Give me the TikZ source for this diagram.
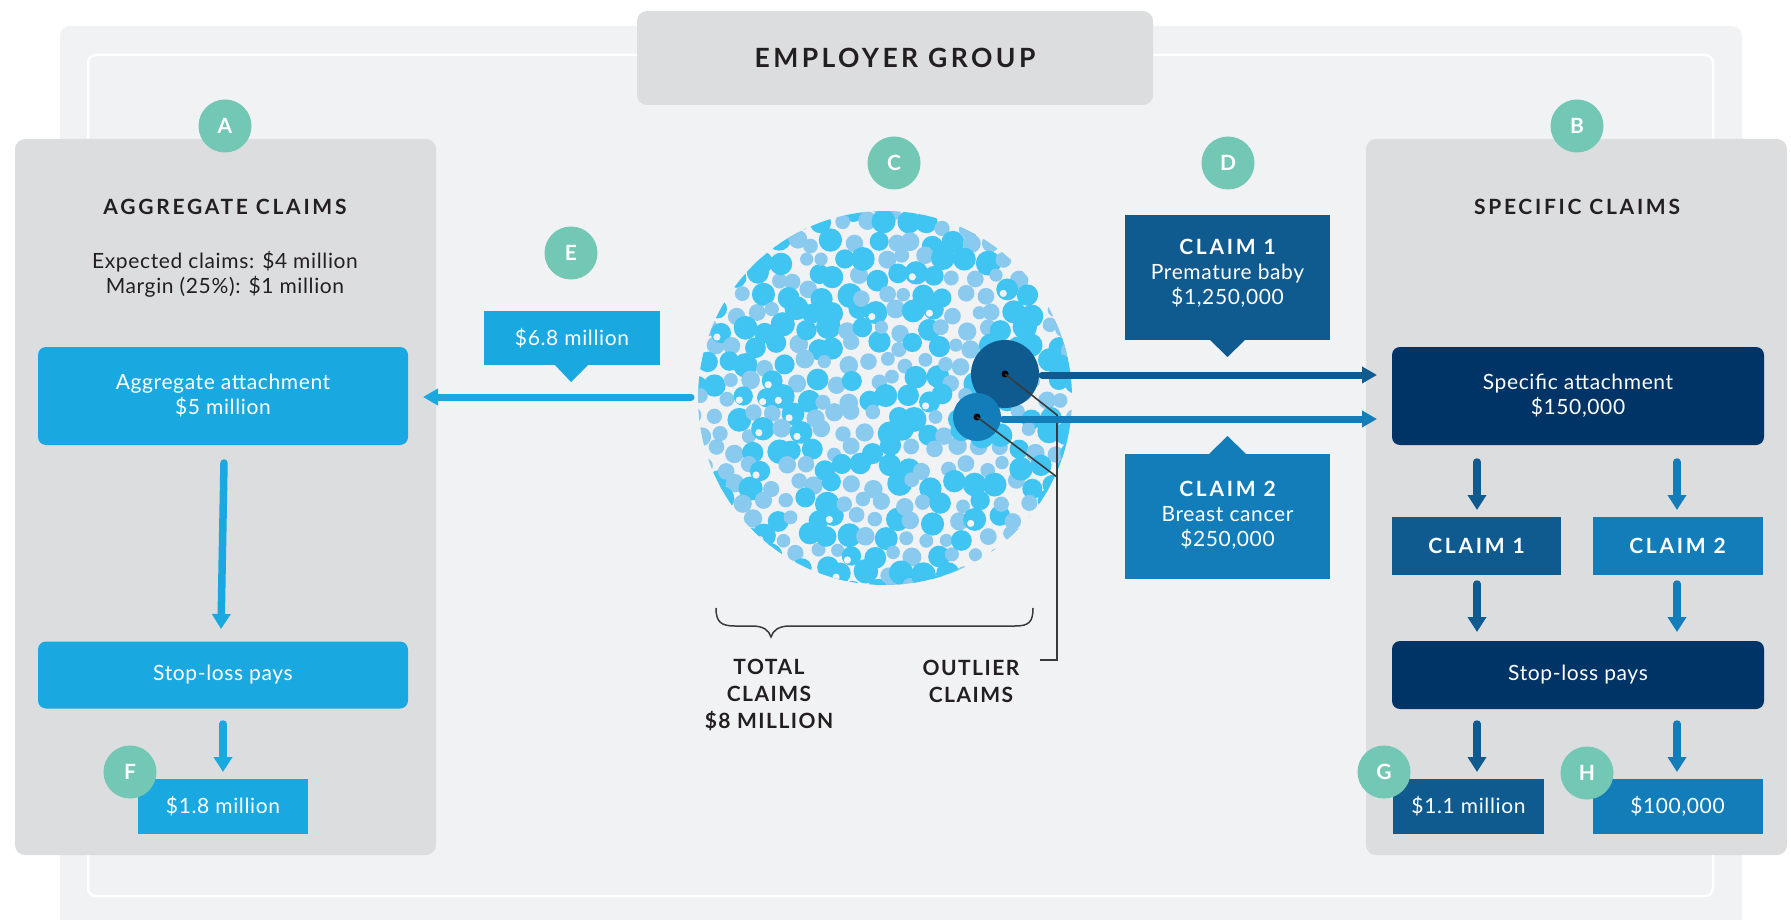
\documentclass[tikz,border=0pt]{standalone}
\usepackage{fontspec}
\setmainfont{Lato}[LetterSpace=3]
\newfontfamily\headfont[LetterSpace=13]{Lato}
\newfontfamily\labelfont[LetterSpace=7]{Lato}
\newfontfamily\badgefont{Lato}
\usetikzlibrary{arrows.meta}
\definecolor{bgout}{HTML}{F1F2F4}
\definecolor{panelgray}{HTML}{DCDDDF}
\definecolor{tealc}{HTML}{72C7B5}
\definecolor{aggblue}{HTML}{19A8E0}
\definecolor{navy}{HTML}{003466}
\definecolor{claimone}{HTML}{0F5A8F}
\definecolor{claimtwo}{HTML}{137DBA}
\definecolor{dotbright}{HTML}{40C4F2}
\definecolor{dotlight}{HTML}{8ACAEE}
\definecolor{ink}{HTML}{231F20}
\definecolor{leadgray}{HTML}{3A3A3C}
\newcommand\titlefnt{\headfont\bfseries\fontsize{26.5}{30}\selectfont}
\newcommand\headfnt{\headfont\bfseries\fontsize{21}{25}\selectfont}
\newcommand\bodyfnt{\fontsize{21}{25}\selectfont}
\newcommand\badgefnt{\badgefont\bfseries\fontsize{21}{24}\selectfont}
\newcommand\lblfnt{\labelfont\bfseries\fontsize{21}{27}\selectfont}
\begin{document}
\begin{tikzpicture}[x=1pt,y=-1pt,
  panelbox/.style={fill=panelgray, rounded corners=10pt, inner sep=0pt},
  badge/.style={circle, fill=tealc, text=white, minimum size=53pt, inner sep=0pt, font=\badgefnt},
  headtext/.style={text=ink, font=\headfnt, inner sep=0pt},
  bodytext/.style={text=ink, align=center, font=\bodyfnt, inner sep=0pt},
  flowbox/.style={inner sep=0pt, text=white, align=center, font=\bodyfnt},
  roundbox/.style={flowbox, rounded corners=8pt},
  boxtext/.style={text=white, align=center, font=\bodyfnt, inner sep=0pt},
  flowarrow/.style={line width=7.5pt, line cap=round, -{Triangle[width=18pt,length=15pt]}},
  sidearrow/.style={line width=7pt, line cap=round, -{Triangle[width=16pt,length=15pt]}},
  leader/.style={draw=leadgray, line width=1.6pt},
  lbl/.style={text=ink, align=center, font=\lblfnt, inner sep=0pt}
]
\useasboundingbox (0,0) rectangle (1791,920);
\fill[white] (0,0) rectangle (1791,920);
% background
\fill[bgout, rounded corners=10pt] (60,26) rectangle (1742,960);
\draw[white, line width=2.5pt, rounded corners=8pt] (88,55) rectangle (1713,896);

% header
\node[panelbox, minimum width=516pt, minimum height=94pt, font=\titlefnt, text=ink] (header) at (895,58) {EMPLOYER GROUP};

% panels
\node[panelbox, minimum width=421pt, minimum height=716pt] (panelA) at (225.5,497) {};
\node[panelbox, minimum width=421pt, minimum height=716pt] (panelB) at (1576.5,497) {};

% left panel content
\node[headtext] (aggtitle) at (225,207) {AGGREGATE CLAIMS};
\node[bodytext] (aggtext) at (225,274.5) {Expected claims: \$4 million\\Margin (25\%): \$1 million};
\node[roundbox, fill=aggblue, minimum width=370pt, minimum height=98pt] (aggatt) at (223,396) {Aggregate attachment\\\$5 million};
\node[roundbox, fill=aggblue, minimum width=370pt, minimum height=67pt] (aggstop) at (223,675) {Stop-loss pays};
\node[flowbox, fill=aggblue, minimum width=170pt, minimum height=55pt] (aggres) at (223,806.5) {\$1.8 million};

\coordinate (a1s) at (224,463); \coordinate (a1e) at (221,629);
\coordinate (a2s) at (223,724); \coordinate (a2e) at (223,772);
\draw[flowarrow, draw=aggblue] (a1s) -- (a1e);
\draw[flowarrow, draw=aggblue] (a2s) -- (a2e);

% right panel content
\node[headtext] (spectitle) at (1577,207) {SPECIFIC CLAIMS};
\node[roundbox, fill=navy, minimum width=372pt, minimum height=98pt] (specatt) at (1578,396) {Specific attachment\\\$150,000};
\node[flowbox, fill=claimone, minimum width=169pt, minimum height=58pt, font=\headfnt] (c1s) at (1476.5,546) {CLAIM 1};
\node[flowbox, fill=claimtwo, minimum width=170pt, minimum height=58pt, font=\headfnt] (c2s) at (1677.5,546) {CLAIM 2};
\node[roundbox, fill=navy, minimum width=372pt, minimum height=68pt] (specstop) at (1578,675) {Stop-loss pays};
\node[flowbox, fill=claimone, minimum width=151pt, minimum height=55pt] (res1) at (1468.5,806.5) {\$1.1 million};
\node[flowbox, fill=claimtwo, minimum width=170pt, minimum height=55pt] (res2) at (1677.5,806.5) {\$100,000};

\coordinate (b1s) at (1477,462); \coordinate (b1e) at (1477,510);
\coordinate (b2s) at (1677,462); \coordinate (b2e) at (1677,510);
\coordinate (b3s) at (1477,584); \coordinate (b3e) at (1477,632);
\coordinate (b4s) at (1677,584); \coordinate (b4e) at (1677,632);
\coordinate (b5s) at (1477,724); \coordinate (b5e) at (1477,772);
\coordinate (b6s) at (1677,724); \coordinate (b6e) at (1677,772);
\draw[flowarrow, draw=claimone] (b1s) -- (b1e);
\draw[flowarrow, draw=claimtwo] (b2s) -- (b2e);
\draw[flowarrow, draw=claimone] (b3s) -- (b3e);
\draw[flowarrow, draw=claimtwo] (b4s) -- (b4e);
\draw[flowarrow, draw=claimone] (b5s) -- (b5e);
\draw[flowarrow, draw=claimtwo] (b6s) -- (b6e);

% big circle of dots (jittered hex grid)
\begin{scope}
\clip (885,398) circle[radius=187pt];
\pgfmathsetseed{4242}
\foreach \i in {-10,...,10}{
  \foreach \j in {-11,...,11}{
    \pgfmathsetmacro\px{\i*20+10*abs(mod(\j,2))+10*rnd-5}
    \pgfmathsetmacro\py{\j*17.3+10*rnd-5}
    \pgfmathsetmacro\cc{rnd}
    \pgfmathsetmacro\hh{rnd}
    \ifdim\cc pt<0.5pt
      \pgfmathsetmacro\ss{9.5+3*rnd}
      \fill[dotbright] (885+\px,398+\py) circle[radius=\ss pt];
      \ifdim\hh pt<0.1pt
        \fill[bgout] (885+\px-4,398+\py+4) circle[radius=3.6pt];
      \fi
    \else
      \pgfmathsetmacro\ss{6.5+3*rnd}
      \fill[dotlight] (885+\px,398+\py) circle[radius=\ss pt];
    \fi
  }
}
\end{scope}
\node[draw=none, minimum size=374pt, circle, inner sep=0pt] (pool) at (885,398) {};

% outlier circles
\node[circle, fill=claimone, minimum size=68pt, inner sep=0pt] (out1) at (1005,374) {};
\node[circle, fill=claimtwo, minimum size=48pt, inner sep=0pt] (out2) at (977,417) {};
\fill[black] (out1.center) circle[radius=3.5pt];
\fill[black] (out2.center) circle[radius=3.5pt];
\coordinate (j1) at (1057,415);
\coordinate (j2) at (1057,477);
\coordinate (jb) at (1057,660);
\coordinate (je) at (1040,660);
\draw[leader] (out1.center) -- (j1) -- (jb) -- (je);
\draw[leader] (out2.center) -- (j2);

% E callout
\node[flowbox, fill=aggblue, minimum width=176pt, minimum height=54pt] (c68) at (572,338) {\$6.8 million};
\fill[aggblue] (554,364) -- (571,382) -- (589,364) -- cycle;
\coordinate (e1s) at (691,397); \coordinate (e1e) at (423,397);
\draw[sidearrow, draw=aggblue] (e1s) -- (e1e);

% D callouts
\node[fill=claimone, minimum width=205pt, minimum height=125pt, inner sep=0pt] (cl1) at (1227.5,277.5) {};
\node[boxtext] (cl1t) at (1227.5,273) {{\headfnt CLAIM 1}\\Premature baby\\\$1,250,000};
\fill[claimone] (1209,339) -- (1227.5,357) -- (1246,339) -- cycle;
\node[fill=claimtwo, minimum width=205pt, minimum height=125pt, inner sep=0pt] (cl2) at (1227.5,516.5) {};
\node[boxtext] (cl2t) at (1227.5,515) {{\headfnt CLAIM 2}\\Breast cancer\\\$250,000};
\fill[claimtwo] (1209,454) -- (1227.5,436) -- (1246,454) -- cycle;

\coordinate (o1s) at (1042,375); \coordinate (o1e) at (1377,375);
\coordinate (o2s) at (1003,419); \coordinate (o2e) at (1377,419);
\draw[sidearrow, draw=claimone] (o1s) -- (o1e);
\draw[sidearrow, draw=claimtwo] (o2s) -- (o2e);

% brace and labels
\draw[draw=leadgray, line width=1.5pt] (716,608) .. controls (716,622) and (721,626) .. (735,626) -- (752,626) .. controls (763,626) and (769,630) .. (771,637) .. controls (773,630) and (779,626) .. (790,626) -- (1015,626) .. controls (1029,626) and (1033,622) .. (1033,608);
\node[lbl] (totlbl) at (769,695) {TOTAL\\CLAIMS\\\$8 MILLION};
\node[lbl] (outlbl) at (971,681) {OUTLIER\\CLAIMS};

% badges
\node[badge] (bA) at (225,126) {A};
\node[badge] (bB) at (1577,126) {B};
\node[badge] (bC) at (894,163) {C};
\node[badge] (bD) at (1228,163) {D};
\node[badge] (bE) at (571,253) {E};
\node[badge] (bF) at (130,772) {F};
\node[badge] (bG) at (1384,772) {G};
\node[badge] (bH) at (1587,773) {H};
\end{tikzpicture}
\end{document}
